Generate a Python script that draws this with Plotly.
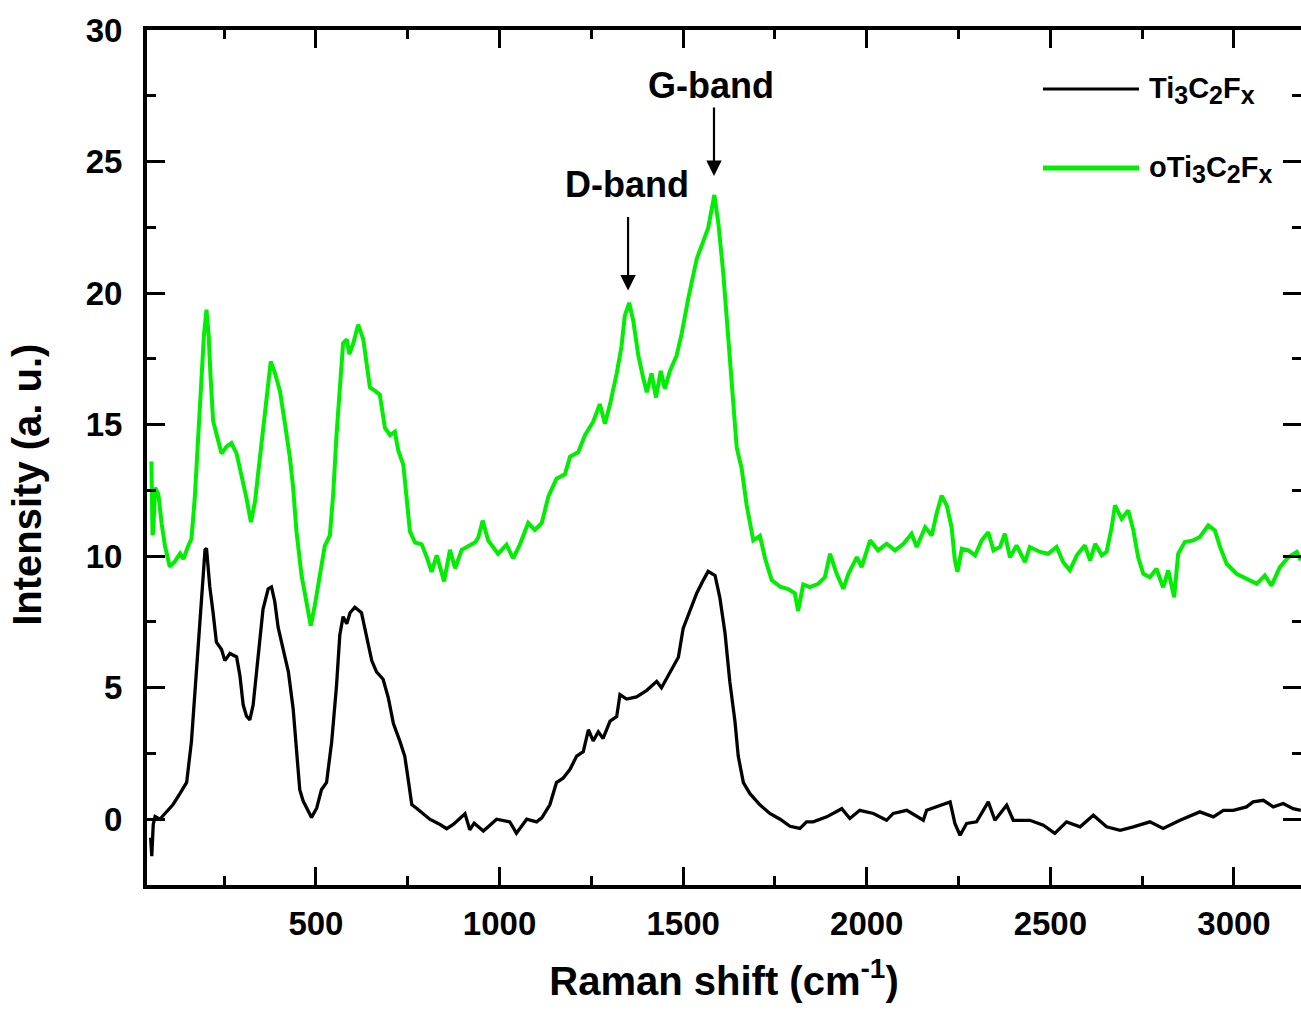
import plotly.graph_objects as go

# ---------------- data ----------------
black_x = [50, 53, 57, 62, 75, 93, 111, 130, 148, 161, 170, 180, 189, 198, 202, 211, 220, 229, 243, 252,
           266, 284, 293, 302, 311, 320, 329, 338, 347, 356, 370, 379, 388, 397, 411, 425, 438, 447, 456, 465,
           479, 488, 502, 515, 529, 543, 556, 565, 574, 584, 593, 606, 624, 638, 652, 665, 683, 697, 711, 729,
           742, 751, 761, 774, 792, 810, 838, 856, 874, 906, 919, 931, 956, 992, 1028, 1046, 1074, 1101, 1115, 1137,
           1155, 1173, 1192, 1210, 1228, 1242, 1255, 1269, 1282, 1301, 1319, 1328, 1346, 1373, 1401, 1428, 1441, 1464,
           1487, 1500, 1518, 1537, 1555, 1568, 1587, 1600, 1614, 1627, 1641, 1650, 1664, 1682, 1709, 1736, 1764, 1791,
           1818, 1836, 1854, 1891, 1932, 1954, 1981, 2018, 2054, 2072, 2109, 2154, 2163, 2199, 2227, 2240, 2254, 2272,
           2299, 2331, 2349, 2381, 2399, 2444, 2481, 2512, 2544, 2581, 2617, 2653, 2690, 2726, 2771, 2807, 2853, 2907,
           2944, 2971, 2998, 3034, 3052, 3080, 3107, 3134, 3161, 3182]
black_y = [-0.7, -1.4, -0.2, 0.1, 0.0, 0.3, 0.56, 0.98, 1.4, 2.95, 4.76, 7.0, 8.55, 10.24, 10.3, 8.83, 7.85, 6.73, 6.45, 6.03,
           6.3, 6.17, 5.46, 4.34, 3.92, 3.78, 4.34, 5.6, 6.87, 7.99, 8.76, 8.83, 8.27, 7.3, 6.45, 5.6, 4.2, 2.8, 1.12, 0.7,
           0.28, 0.07, 0.42, 1.12, 1.4, 2.95, 5.06, 7.0, 7.7, 7.43, 7.85, 8.06, 7.85, 7.0, 6.03, 5.6, 5.32, 4.62, 3.64, 2.95,
           2.39, 1.54, 0.56, 0.42, 0.21, 0.0, -0.2, -0.36, -0.2, 0.21, -0.4, -0.15, -0.45, 0.0, -0.1, -0.53, 0.0, -0.1, 0.05, 0.55,
           1.39, 1.56, 1.9, 2.4, 2.57, 3.4, 2.98, 3.32, 3.07, 3.73, 3.9, 4.74, 4.57, 4.65, 4.9, 5.24, 5.0, 5.57,
           6.16, 7.25, 7.92, 8.59, 9.09, 9.42, 9.26, 8.42, 7.08, 5.24, 3.73, 2.4, 1.39, 0.97, 0.55, 0.22, 0.0, -0.27,
           -0.35, -0.1, -0.1, 0.09, 0.4, 0.03, 0.34, 0.22, -0.04, 0.22, 0.34, -0.04, 0.34, 0.53, 0.66, -0.16, -0.61, -0.16,
           -0.1, 0.66, -0.04, 0.53, -0.04, -0.04, -0.23, -0.54, -0.1, -0.29, 0.15, -0.29, -0.42, -0.29, -0.1, -0.35, -0.04, 0.28,
           0.09, 0.34, 0.34, 0.47, 0.66, 0.72, 0.47, 0.6, 0.4, 0.34]

green_x = [52, 55, 57, 62, 71, 80, 89, 102, 116, 130, 139, 152, 161, 170, 180, 189, 195, 202, 208, 213,
           220, 230, 243, 257, 270, 284, 298, 311, 323, 334, 343, 356, 366, 377, 388, 402, 416, 429, 438, 447,
           461, 475, 486, 497, 511, 524, 538, 547, 556, 565, 574, 584, 591, 602, 615, 629, 638, 647, 661, 674,
           688, 702, 715, 724, 738, 747, 756, 770, 788, 802, 815, 829, 840, 849, 865, 879, 897, 915, 933, 942,
           954, 969, 996, 1019, 1037, 1055, 1078, 1096, 1115, 1133, 1155, 1178, 1192, 1214, 1233, 1255, 1273, 1287, 1301, 1319,
           1332, 1341, 1353, 1364, 1378, 1391, 1401, 1414, 1426, 1439, 1450, 1464, 1482, 1496, 1514, 1537, 1555, 1568, 1585, 1596,
           1609, 1623, 1636, 1646, 1659, 1673, 1691, 1709, 1723, 1741, 1764, 1786, 1804, 1813, 1827, 1845, 1868, 1886, 1900, 1918,
           1936, 1950, 1973, 1986, 2009, 2031, 2054, 2077, 2100, 2122, 2136, 2159, 2177, 2190, 2204, 2218, 2231, 2240, 2247, 2259,
           2277, 2295, 2313, 2331, 2345, 2363, 2376, 2390, 2408, 2431, 2444, 2472, 2494, 2517, 2535, 2553, 2572, 2594, 2608, 2622,
           2640, 2653, 2667, 2676, 2694, 2712, 2726, 2739, 2753, 2771, 2789, 2807, 2821, 2837, 2848, 2866, 2889, 2907, 2930, 2948,
           2962, 2980, 3007, 3034, 3062, 3084, 3102, 3125, 3148, 3171, 3182]
green_y = [13.6, 10.8, 10.94, 12.6, 12.35, 11.22, 10.38, 9.6, 9.8, 10.1, 9.89, 10.38, 10.66, 12.2, 14.6, 16.56, 18.38, 19.37, 18.38, 16.84,
           15.15, 14.6, 13.9, 14.17, 14.3, 13.9, 13.05, 12.2, 11.29, 12.06, 13.19, 14.87, 16.28, 17.4, 16.98, 16.28, 15.0, 13.75, 12.6, 10.94,
           9.26, 8.13, 7.36, 8.13, 9.4, 10.38, 10.8, 12.35, 14.6, 16.56, 18.1, 18.24, 17.68, 18.1, 18.8, 18.24, 17.26, 16.42, 16.28, 16.14,
           14.87, 14.6, 14.73, 14.03, 13.47, 12.35, 10.94, 10.52, 10.45, 9.96, 9.4, 10.03, 9.4, 9.04, 10.24, 9.54, 10.24, 10.38, 10.52, 10.7,
           11.35, 10.6, 10.09, 10.43, 9.92, 10.43, 11.26, 11.0, 11.26, 12.27, 12.94, 13.11, 13.78, 13.95, 14.61, 15.11, 15.78, 15.03, 15.78, 16.95,
           17.96, 19.13, 19.63, 18.96, 17.62, 16.79, 16.23, 16.95, 16.03, 17.04, 16.37, 17.04, 17.62, 18.46, 19.8, 21.3, 21.97, 22.47, 23.73, 22.64,
           20.8, 18.29, 16.28, 14.11, 13.36, 11.93, 10.6, 10.77, 9.92, 9.09, 8.84, 8.75, 8.59, 7.92, 8.92, 8.82, 8.95, 9.2, 10.09, 9.33,
           8.76, 9.33, 9.96, 9.58, 10.6, 10.22, 10.47, 10.22, 10.47, 10.85, 10.35, 11.1, 10.79, 11.61, 12.3, 11.92, 11.1, 9.84, 9.4, 10.28,
           10.22, 10.03, 10.6, 10.91, 10.22, 10.35, 10.85, 9.96, 10.41, 9.77, 10.35, 10.16, 10.09, 10.35, 9.77, 9.46, 10.03, 10.41, 9.84, 10.47,
           10.03, 10.16, 11.1, 11.93, 11.42, 11.74, 10.98, 9.96, 9.33, 9.2, 9.52, 8.82, 9.46, 8.44, 10.09, 10.54, 10.6, 10.73, 11.17, 10.98,
           10.35, 9.71, 9.33, 9.14, 8.95, 9.27, 8.88, 9.58, 9.96, 10.16, 9.84]

series_names = ["Ti<sub>3</sub>C<sub>2</sub>F<sub>x</sub>", "oTi<sub>3</sub>C<sub>2</sub>F<sub>x</sub>"]
series_colors = ["#000000", "#00ee00"]
band_labels = ["D-band", "G-band"]
band_pos = [1350, 1584]          # cm-1, arrow positions
band_tip = [20.1, 24.45]         # intensity of arrow tips
x_range = [40, 3182.5]
y_range = [-2.5, 30]

FONT = "Liberation Sans, Arial, sans-serif"

fig = go.Figure()
fig.add_trace(go.Scatter(x=black_x, y=black_y, mode="lines", name=series_names[0],
                         line=dict(color=series_colors[0], width=3.3)))
fig.add_trace(go.Scatter(x=green_x, y=green_y, mode="lines", name=series_names[1], yaxis="y2",
                         line=dict(color=series_colors[1], width=4)))

tickstyle = dict(ticks="inside", tickwidth=3, tickcolor="black")
minor_style = dict(ticks="inside", ticklen=9, tickwidth=3, tickcolor="black", showgrid=False)

fig.update_layout(
    width=1301, height=1011,
    margin=dict(l=147, r=0, t=30, b=126),
    plot_bgcolor="white", paper_bgcolor="white",
    showlegend=False,
    font=dict(family=FONT, color="black"),
    xaxis=dict(range=x_range, tick0=0, dtick=500, ticklen=18, **tickstyle,
               minor=dict(tick0=0, dtick=250, **minor_style),
               showline=True, linewidth=4, linecolor="black", mirror="ticks",
               showgrid=False, zeroline=False,
               tickfont=dict(family=FONT, size=33, color="black", weight="bold"),
               ticklabelstandoff=6,
               title=dict(text="Raman shift (cm<sup>-1</sup>)", standoff=27,
                          font=dict(family=FONT, size=40, color="black", weight="bold"))),
    yaxis=dict(range=y_range, tick0=0, dtick=5, ticklen=18, **tickstyle,
               minor=dict(tick0=0, dtick=2.5, **minor_style),
               showline=True, linewidth=4, linecolor="black",
               showgrid=False, zeroline=False,
               tickfont=dict(family=FONT, size=33, color="black", weight="bold"),
               ticklabelstandoff=14),
    yaxis2=dict(overlaying="y", side="right", matches="y", anchor="x",
                tick0=0, dtick=5, ticklen=18, **tickstyle,
                minor=dict(tick0=0, dtick=2.5, **minor_style),
                showline=False, showgrid=False, zeroline=False, showticklabels=False),
)

# y-axis title (placed like the reference: slightly below the plot's middle)
fig.add_annotation(x=-0.104, y=0.468, xref="paper", yref="paper", text="<b>Intensity (a. u.)</b>",
                   textangle=-90, showarrow=False, xanchor="center", yanchor="middle",
                   font=dict(family=FONT, size=40, color="black"))

# band labels and arrows
label_y = [24.12, 27.88]
label_x = [1347, 1576]
arrow_len = [75, 70]
for i in range(2):
    fig.add_annotation(x=label_x[i], y=label_y[i], xref="x", yref="y", text="<b>%s</b>" % band_labels[i],
                       showarrow=False, font=dict(family=FONT, size=36, color="black"),
                       xanchor="center", yanchor="middle")
    fig.add_annotation(x=band_pos[i], y=band_tip[i], xref="x", yref="y", text="",
                       showarrow=True, arrowhead=2, arrowsize=1.4, arrowwidth=2.2, arrowcolor="black",
                       ax=0, ay=-arrow_len[i], standoff=0)

# manual legend (long line samples like the reference)
leg_y = [0.931, 0.8386]
leg_w = [3, 5]
leg_text = ["<b>Ti<sub><span style='font-size:25px'>3</span></sub>C<sub><span style='font-size:25px'>2</span></sub>"
            "F<sub><span style='font-size:25px'>x</span></sub></b>",
            "<b>oTi<sub><span style='font-size:25px'>3</span></sub>C<sub><span style='font-size:25px'>2</span></sub>"
            "F<sub><span style='font-size:25px'>x</span></sub></b>"]
for i in range(2):
    fig.add_shape(type="line", xref="paper", yref="paper", x0=0.7764, x1=0.8596, y0=leg_y[i], y1=leg_y[i],
                  line=dict(color=series_colors[i], width=leg_w[i]))
    fig.add_annotation(x=0.8666, y=leg_y[i] - 0.002, xref="paper", yref="paper", text=leg_text[i],
                       showarrow=False, xanchor="left", yanchor="middle",
                       font=dict(family=FONT, size=29, color="black"))

fig.write_html("out.html")
